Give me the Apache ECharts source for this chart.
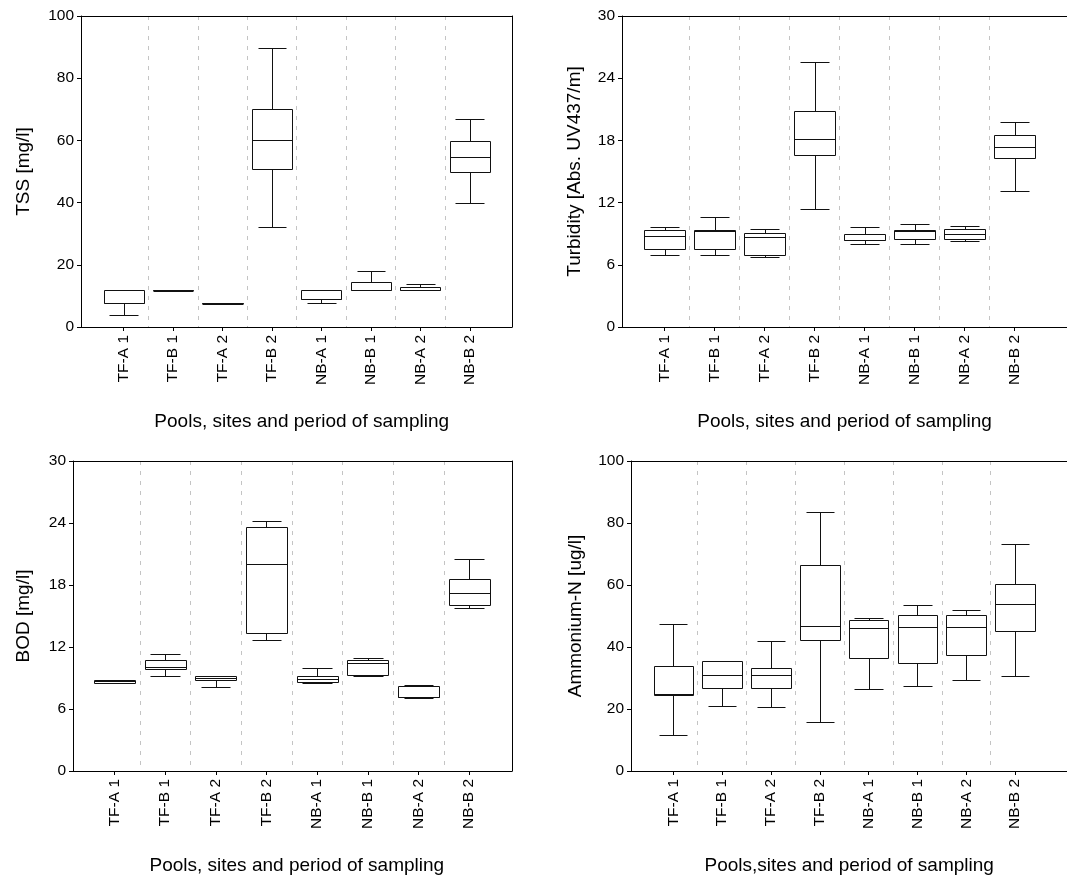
<!DOCTYPE html>
<html>
<head>
<meta charset="utf-8">
<script src="https://cdn.jsdelivr.net/npm/echarts@6/dist/echarts.min.js"></script>
<style>
html,body{margin:0;padding:0;background:#fff;}
#chart{width:1067px;height:877px;}
</style>
</head>
<body>
<div id="chart"></div>
<script>
// Categories (pools, sites, period)
const categories = ['TF-A 1','TF-B 1','TF-A 2','TF-B 2','NB-A 1','NB-B 1','NB-A 2','NB-B 2'];

// Box statistics per category: [min, Q1, median, Q3, max]
const tss = [
  [4.0, 7.8, 7.8, 12.0, 12.0],
  [12.0, 12.0, 12.0, 12.0, 12.0],
  [7.8, 7.8, 7.8, 7.8, 7.8],
  [32.0, 50.8, 60.0, 70.1, 89.8],
  [7.8, 9.0, 9.0, 12.0, 12.0],
  [12.0, 12.0, 12.0, 14.6, 18.1],
  [12.0, 12.0, 12.0, 12.8, 13.9],
  [40.0, 49.8, 54.7, 59.9, 66.9]
];
const turbidity = [
  [6.9, 7.5, 8.8, 9.4, 9.6],
  [6.9, 7.5, 9.3, 9.4, 10.6],
  [6.8, 6.9, 8.7, 9.1, 9.5],
  [11.4, 16.6, 18.1, 20.8, 25.6],
  [8.0, 8.4, 8.4, 9.0, 9.65],
  [8.0, 8.5, 9.3, 9.35, 9.95],
  [8.25, 8.5, 9.0, 9.5, 9.7],
  [13.1, 16.3, 17.35, 18.55, 19.8]
];
const bod = [
  [8.5, 8.5, 8.7, 8.85, 8.85],
  [9.2, 9.83, 10.06, 10.77, 11.35],
  [8.15, 8.77, 9.0, 9.19, 9.19],
  [12.7, 13.4, 20.0, 23.65, 24.15],
  [8.5, 8.6, 8.93, 9.16, 9.96],
  [9.19, 9.25, 10.42, 10.77, 10.9],
  [7.05, 7.13, 7.15, 8.19, 8.29],
  [15.75, 16.1, 17.2, 18.6, 20.5]
];
const ammonium = [
  [11.6, 24.4, 24.7, 33.9, 47.3],
  [21.1, 26.9, 30.9, 35.4, 35.4],
  [20.6, 26.9, 30.9, 33.2, 41.9],
  [15.8, 42.2, 46.8, 66.4, 83.5],
  [26.4, 36.5, 46.0, 48.7, 49.4],
  [27.5, 35.0, 46.3, 50.2, 53.6],
  [29.4, 37.4, 46.3, 50.2, 52.0],
  [30.8, 45.2, 53.9, 60.3, 73.1]
];

// Y-axis tick labels for each panel
const ticksTSS = [0, 20, 40, 60, 80, 100];
const ticksTurbidity = [0, 6, 12, 18, 24, 30];
const ticksBOD = [0, 6, 12, 18, 24, 30];
const ticksAmmonium = [0, 20, 40, 60, 80, 100];

const panelNames = ['TSS [mg/l]', 'Turbidity [Abs. UV437/m]', 'BOD [mg/l]', 'Ammonium-N [ug/l]'];
const xNames = ['Pools, sites and period of sampling', 'Pools, sites and period of sampling',
                'Pools, sites and period of sampling', 'Pools,sites and period of sampling'];

const FONT = 'Liberation Sans, Arial, Helvetica, sans-serif';
const LINE = '#111';

const panels = [
  {data: tss, ticks: ticksTSS, outer: {left: 81, top: 16, width: 431, height: 311}, inner: {left: 98.9, width: 395.6}, nameGap: 48, rightBorder: true},
  {data: turbidity, ticks: ticksTurbidity, outer: {left: 622, top: 16, width: 470, height: 311}, inner: {left: 639.7, width: 399.8}, nameGap: 38, rightBorder: false},
  {data: bod, ticks: ticksBOD, outer: {left: 73, top: 461, width: 439, height: 310}, inner: {left: 89.1, width: 405.4}, nameGap: 40, rightBorder: true},
  {data: ammonium, ticks: ticksAmmonium, outer: {left: 631, top: 461, width: 470, height: 310}, inner: {left: 648.9, width: 390.6}, nameGap: 46, rightBorder: false}
];

function renderBox(params, api) {
  const i = api.value(0);
  const px = v => Math.round(v) + 0.5;
  const pLo = api.coord([i, api.value(1)]);
  const pQ1 = api.coord([i, api.value(2)]);
  const pMed = api.coord([i, api.value(3)]);
  const pQ3 = api.coord([i, api.value(4)]);
  const pHi = api.coord([i, api.value(5)]);
  const band = api.size([1, 0])[0];
  const bw = band * 0.81, cw = band * 0.58;
  const cx = pLo[0];
  const bl = px(cx - bw / 2), br = px(cx + bw / 2);
  const cl = px(cx - cw / 2), cr = px(cx + cw / 2);
  const xc = px(cx);
  const yLo = px(pLo[1]), yQ1 = px(pQ1[1]), yMed = px(pMed[1]), yQ3 = px(pQ3[1]), yHi = px(pHi[1]);
  const st = {stroke: LINE, lineWidth: 1, fill: null};
  const children = [];
  if (yHi < yQ3) {
    children.push({type: 'line', shape: {x1: xc, y1: yQ3, x2: xc, y2: yHi}, style: st});
    children.push({type: 'line', shape: {x1: cl, y1: yHi, x2: cr, y2: yHi}, style: st});
  }
  if (yLo > yQ1) {
    children.push({type: 'line', shape: {x1: xc, y1: yQ1, x2: xc, y2: yLo}, style: st});
    children.push({type: 'line', shape: {x1: cl, y1: yLo, x2: cr, y2: yLo}, style: st});
  }
  children.push({type: 'rect', shape: {x: bl, y: yQ3, width: br - bl, height: Math.max(yQ1 - yQ3, 0)},
                 style: {stroke: LINE, lineWidth: 1, fill: '#fff'}});
  if (yQ1 - yQ3 < 2) {
    children.push({type: 'line', shape: {x1: bl, y1: yQ3 + 1, x2: br, y2: yQ3 + 1}, style: st});
  }
  children.push({type: 'line', shape: {x1: bl, y1: yMed, x2: br, y2: yMed}, style: st});
  return {type: 'group', children: children};
}

const frameLine = {show: true, onZero: false, lineStyle: {color: '#000', width: 1}};
const grid = [], xAxis = [], yAxis = [], series = [];
panels.forEach((p, k) => {
  const yMin = p.ticks[0], yMax = p.ticks[p.ticks.length - 1], yInt = p.ticks[1] - p.ticks[0];
  const gOuter = grid.length;
  grid.push({left: p.outer.left, top: p.outer.top, width: p.outer.width, height: p.outer.height, show: false});
  const gInner = grid.length;
  grid.push({left: p.inner.left, top: p.outer.top, width: p.inner.width, height: p.outer.height});

  // frame: bottom and top lines on the outer grid
  xAxis.push({gridIndex: gOuter, type: 'value', min: 0, max: 1, position: 'bottom',
              axisLine: frameLine, axisTick: {show: false}, axisLabel: {show: false}, splitLine: {show: false}});
  xAxis.push({gridIndex: gOuter, type: 'value', min: 0, max: 1, position: 'top',
              axisLine: frameLine, axisTick: {show: false}, axisLabel: {show: false}, splitLine: {show: false}});
  const xInnerIdx = xAxis.length;
  xAxis.push({
    gridIndex: gInner, type: 'category', data: categories, boundaryGap: true,
    name: xNames[k], nameLocation: 'middle', nameGap: 85,
    nameTextStyle: {fontFamily: FONT, fontSize: 19, color: '#000', padding: [0, 0, 0, 10]},
    axisLine: {show: false},
    axisTick: {show: true, alignWithLabel: true, interval: 0, length: 4, lineStyle: {color: '#000'}},
    axisLabel: {interval: 0, rotate: 90, margin: 8, fontFamily: FONT, fontSize: 15.5, color: '#000'},
    splitLine: {show: true, interval: 0, showMinLine: false, showMaxLine: false,
                lineStyle: {color: '#c4c4c4', type: [4, 6], width: 1}}
  });

  yAxis.push({
    gridIndex: gOuter, type: 'value', min: yMin, max: yMax, interval: yInt, position: 'left',
    name: panelNames[k], nameLocation: 'middle', nameGap: p.nameGap,
    nameTextStyle: {fontFamily: FONT, fontSize: 19, color: '#000'},
    axisLine: frameLine,
    axisTick: {show: true, length: 4, lineStyle: {color: '#000'}},
    axisLabel: {margin: 7, fontFamily: FONT, fontSize: 15.5, color: '#000'},
    splitLine: {show: false}
  });
  if (p.rightBorder) {
    yAxis.push({gridIndex: gOuter, type: 'value', min: yMin, max: yMax, interval: yInt, position: 'right',
                axisLine: frameLine, axisTick: {show: false}, axisLabel: {show: false}, splitLine: {show: false}});
  }
  const yInnerIdx = yAxis.length;
  yAxis.push({gridIndex: gInner, type: 'value', min: yMin, max: yMax, interval: yInt, show: false,
              splitLine: {show: false}});

  series.push({
    type: 'custom', xAxisIndex: xInnerIdx, yAxisIndex: yInnerIdx,
    renderItem: renderBox,
    encode: {x: 0, y: [1, 2, 3, 4, 5]},
    data: p.data.map((d, i) => [i].concat(d)),
    silent: true, z: 5
  });
});

const chart = echarts.init(document.getElementById('chart'), null, {renderer: 'canvas'});
chart.setOption({
  animation: false,
  backgroundColor: '#fff',
  textStyle: {fontFamily: FONT},
  grid: grid, xAxis: xAxis, yAxis: yAxis, series: series
});
</script>
</body>
</html>
